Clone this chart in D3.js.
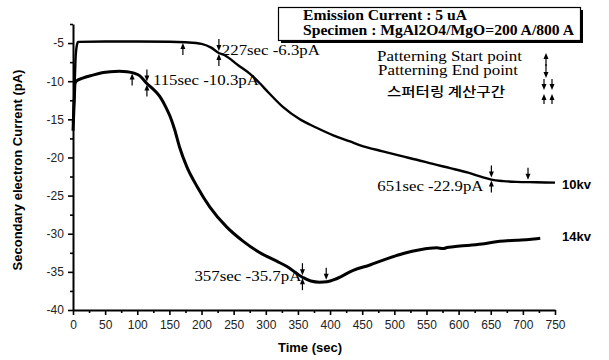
<!DOCTYPE html>
<html>
<head>
<meta charset="utf-8">
<script src="https://cdn.jsdelivr.net/npm/d3@7"></script>
<style>
  html, body { margin: 0; padding: 0; background: #fff; }
  svg { display: block; }
</style>
</head>
<body>
<svg id="chart" width="609" height="360"></svg>
<script>
// Secondary electron current vs. time, two beam energies
const time10kv = [0, 2, 4, 6, 8, 50, 100, 150, 175, 200, 215, 227, 236, 257, 275, 291, 301, 327, 353, 379, 405, 431, 447, 482, 510, 535, 560, 587, 615, 638, 651, 670, 690, 720, 750];
const current10kv = [-15.5, -12, -7, -5.3, -4.85, -4.8, -4.8, -4.82, -4.9, -5.1, -5.6, -6.3, -6.6, -7.9, -9.0, -10.3, -11.2, -13.4, -15.0, -16.1, -17.1, -17.9, -18.4, -19.2, -19.8, -20.3, -20.85, -21.4, -22.0, -22.6, -22.9, -23.1, -23.2, -23.25, -23.3];

const time14kv = [0, 1, 2, 3, 5, 15, 31, 45, 58, 72, 84, 95, 104, 115, 123, 135, 145, 151, 158, 166, 177, 193, 213, 239, 265, 291, 317, 333, 357, 370, 384, 395, 410, 436, 462, 488, 514, 540, 566, 576, 582, 592, 618, 640, 664, 690, 710, 727];
const current14kv = [-16.5, -14.5, -12.5, -10.4, -10.0, -9.6, -9.2, -8.9, -8.76, -8.7, -8.76, -8.95, -9.3, -10.3, -10.9, -12.0, -13.5, -14.6, -16.3, -18.7, -21.2, -23.8, -26.5, -29.1, -31.0, -32.5, -33.6, -34.3, -35.7, -36.2, -36.35, -36.3, -35.9, -34.8, -34.1, -33.3, -32.6, -32.1, -31.85, -31.95, -31.8, -31.7, -31.5, -31.3, -31.0, -30.85, -30.75, -30.6];

// Patterning markers: time, current, arrow kind ("up" start, "down" end, "both" calc point)
const markerTime10kv = [171, 227, 651, 708];
const markerValue10kv = [-4.85, -6.3, -22.9, -23.2];
const markerKind10kv = ["up", "both", "both", "down"];
const markerTime14kv = [92, 115, 357, 394];
const markerValue14kv = [-8.85, -10.3, -35.7, -36.3];
const markerKind14kv = ["up", "both", "both", "down"];

const pointLabels = ["227sec -6.3pA", "115sec -10.3pA", "651sec -22.9pA", "357sec -35.7pA"];
const seriesNames = ["10kv", "14kv"];
const xMajorTicks = d3.range(0, 751, 50);
const xMinorTicks = d3.range(25, 750, 50);
const yMajorTicks = d3.range(-5, -40.1, -5);
const yMinorTicks = d3.range(-2.5, -40, -5);

const svg = d3.select("#chart");
const x = d3.scaleLinear().domain([0, 750]).range([73, 555]);
const y = d3.scaleLinear().domain([-40, -2.5]).range([310, 24]);

const tickFont = "Liberation Sans, Arial, sans-serif";
const serif = "Liberation Serif, Times New Roman, serif";

// axes
const gx = svg.append("g").attr("transform", `translate(0,${y(-40)})`)
  .call(d3.axisBottom(x).tickValues(xMajorTicks).tickSize(5).tickSizeOuter(0).tickFormat(d => String(d)));
svg.append("g").attr("transform", `translate(0,${y(-40)})`)
  .call(d3.axisBottom(x).tickValues(xMinorTicks).tickSize(3).tickSizeOuter(0).tickFormat(""))
  .select(".domain").remove();
const gy = svg.append("g").attr("transform", `translate(${x(0)},0)`)
  .call(d3.axisLeft(y).tickValues(yMajorTicks).tickSize(5).tickSizeOuter(0).tickFormat(d => String(d)));
svg.append("g").attr("transform", `translate(${x(0)},0)`)
  .call(d3.axisLeft(y).tickValues(yMinorTicks).tickSize(3).tickSizeOuter(0).tickFormat(""))
  .select(".domain").remove();

svg.selectAll(".domain").attr("stroke", "#000").attr("stroke-width", 2);
svg.selectAll(".tick line").attr("stroke", "#000").attr("stroke-width", 1.6);
gx.selectAll("text").attr("font-family", tickFont).attr("font-size", 12).attr("fill", "#222").attr("dy", "0.9em");
gy.selectAll("text").attr("font-family", tickFont).attr("font-size", 12).attr("fill", "#222").attr("dx", "-0.1em");

// axis titles
svg.append("text")
  .attr("transform", `translate(22,${(y(-2.5) + y(-40)) / 2 + 3}) rotate(-90)`)
  .attr("text-anchor", "middle")
  .attr("font-family", tickFont).attr("font-weight", "bold").attr("font-size", 13)
  .text("Secondary electron Current (pA)");
svg.append("text")
  .attr("x", 310).attr("y", 352)
  .attr("text-anchor", "middle")
  .attr("font-family", tickFont).attr("font-weight", "bold").attr("font-size", 13)
  .text("Time (sec)");

// curves
const line = d3.line().x(d => x(d[0])).y(d => y(d[1])).curve(d3.curveMonotoneX);
const data10 = time10kv.map((t, i) => [t, current10kv[i]]);
const data14 = time14kv.map((t, i) => [t, current14kv[i]]);
svg.append("path").datum(data10).attr("d", line)
  .attr("fill", "none").attr("stroke", "#000").attr("stroke-width", 2.4).attr("stroke-linejoin", "round");
svg.append("path").datum(data14).attr("d", line)
  .attr("fill", "none").attr("stroke", "#000").attr("stroke-width", 3).attr("stroke-linejoin", "round");

// arrow helpers
function arrow(g, cx, yFrom, yTo) {
  // shaft from yFrom to yTo, head at yTo
  const dir = yTo > yFrom ? 1 : -1;
  g.append("line").attr("x1", cx).attr("x2", cx).attr("y1", yFrom).attr("y2", yTo - dir * 3)
    .attr("stroke", "#000").attr("stroke-width", 1.2);
  g.append("path")
    .attr("d", `M${cx},${yTo} L${cx - 2.5},${yTo - dir * 6} L${cx + 2.5},${yTo - dir * 6} Z`)
    .attr("fill", "#000");
}
const markG = svg.append("g");
function drawMarkers(times, values, kinds) {
  times.forEach((t, i) => {
    const cx = x(t), cy = y(values[i]);
    if (kinds[i] === "up" || kinds[i] === "both") arrow(markG, cx, cy + 13, cy + 1);
    if (kinds[i] === "down" || kinds[i] === "both") arrow(markG, cx, cy - 14, cy - 2);
  });
}
drawMarkers(markerTime10kv, markerValue10kv, markerKind10kv);
drawMarkers(markerTime14kv, markerValue14kv, markerKind14kv);

// point labels
const labelPos = [
  { t: 227, v: -6.3, dx: 3, dy: 2, anchor: "start", w: 98 },
  { t: 115, v: -10.3, dx: 6, dy: 2, anchor: "start", w: 106 },
  { t: 651, v: -22.9, dx: -114, dy: 11, anchor: "start", w: 106 },
  { t: 357, v: -35.7, dx: -108, dy: 4, anchor: "start", w: 107 }
];
labelPos.forEach((p, i) => {
  svg.append("text")
    .attr("x", x(p.t) + p.dx).attr("y", y(p.v) + p.dy)
    .attr("font-family", serif).attr("font-size", 14)
    .attr("textLength", p.w).attr("lengthAdjust", "spacingAndGlyphs")
    .text(pointLabels[i]);
});

// series names at line ends
svg.append("text").attr("x", 562).attr("y", y(current10kv[current10kv.length - 1]) + 6)
  .attr("font-family", tickFont).attr("font-weight", "bold").attr("font-size", 13).text(seriesNames[0]);
svg.append("text").attr("x", 562).attr("y", y(current14kv[current14kv.length - 1]) + 3)
  .attr("font-family", tickFont).attr("font-weight", "bold").attr("font-size", 13).text(seriesNames[1]);

// info box with shadow
svg.append("rect").attr("x", 281).attr("y", 10).attr("width", 302).attr("height", 33).attr("fill", "#000");
svg.append("rect").attr("x", 278.5).attr("y", 7.5).attr("width", 302).attr("height", 33)
  .attr("fill", "#fff").attr("stroke", "#000").attr("stroke-width", 1.2);
svg.append("text").attr("x", 303).attr("y", 20)
  .attr("font-family", serif).attr("font-weight", "bold").attr("font-size", 14)
  .attr("textLength", 164).attr("lengthAdjust", "spacingAndGlyphs")
  .text("Emission Current : 5 uA");
svg.append("text").attr("x", 303).attr("y", 35)
  .attr("font-family", serif).attr("font-weight", "bold").attr("font-size", 14)
  .attr("textLength", 271).attr("lengthAdjust", "spacingAndGlyphs")
  .text("Specimen : MgAl2O4/MgO=200 A/800 A");

// marker legend
svg.append("text").attr("x", 377).attr("y", 61)
  .attr("font-family", serif).attr("font-size", 14)
  .attr("textLength", 145).attr("lengthAdjust", "spacingAndGlyphs")
  .text("Patterning Start point");
svg.append("text").attr("x", 378).attr("y", 75)
  .attr("font-family", serif).attr("font-size", 14)
  .attr("textLength", 140).attr("lengthAdjust", "spacingAndGlyphs")
  .text("Patterning End point");
svg.append("text").attr("x", 387).attr("y", 96)
  .attr("font-family", "Noto Sans CJK KR, sans-serif").attr("font-size", 13).attr("font-weight", "500")
  .attr("textLength", 118).attr("lengthAdjust", "spacingAndGlyphs")
  .text("스퍼터링 계산구간");

const legG = svg.append("g");
arrow(legG, 546, 66, 53);
arrow(legG, 546, 64, 78);
arrow(legG, 544, 79, 90);
arrow(legG, 552, 79, 90);
arrow(legG, 544, 104, 94);
arrow(legG, 552, 104, 94);
</script>
</body>
</html>
